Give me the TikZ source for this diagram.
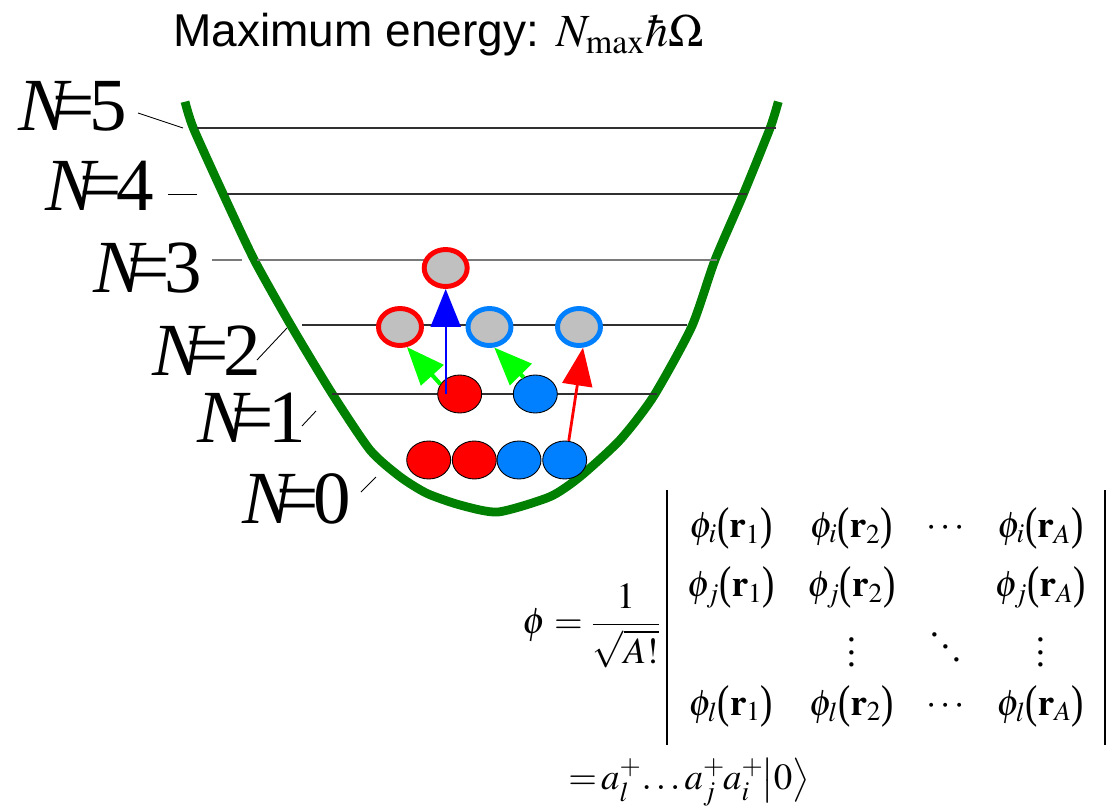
\documentclass[tikz,border=0pt]{standalone}
\usepackage{amsmath}
\usepackage{mathptmx}
\usepackage[no-math]{fontspec}
\setmainfont{Liberation Serif}
\newfontfamily\arialfont{Liberation Sans}
\usetikzlibrary{arrows.meta,shapes.geometric,matrix}

\definecolor{wellgreen}{HTML}{008000}
\definecolor{protonred}{HTML}{FF0000}
\definecolor{neutronblue}{HTML}{0080FF}
\definecolor{holegray}{HTML}{C0C0C0}
\definecolor{jumpgreen}{HTML}{00FF00}
\definecolor{jumpblue}{HTML}{0000FF}
\definecolor{linedark}{HTML}{303030}
\definecolor{linegray}{HTML}{7A7A7A}

\newcommand{\shellfont}{\fontsize{42.7}{48}\selectfont}
\newcommand{\titlefont}{\fontsize{26.2}{30}\selectfont}
\newcommand{\detfont}{\fontsize{21}{25}\selectfont}
\newcommand{\detlp}{\mathopen{\raisebox{-0.06em}{\scalebox{1}[1.25]{(}}}}
\newcommand{\detrp}{\mathclose{\raisebox{-0.06em}{\scalebox{1}[1.25]{)}}}}
\newcommand{\colvdots}{\vbox{\baselineskip0.34em\lineskiplimit0pt\kern0.3em\hbox{.}\hbox{.}\hbox{.}}}
\newcommand{\diagdots}{\mathinner{\raise0.68em\hbox{.}\kern0.05em\raise0.34em\hbox{.}\kern0.05em\hbox{.}}}

\tikzset{
  particle/.style={ellipse, draw=black, line width=0.5pt, inner sep=0pt,
    minimum width=0.88cm, minimum height=0.76cm},
  proton/.style={particle, fill=protonred},
  neutron/.style={particle, fill=neutronblue},
  hole/.style={ellipse, fill=holegray, line width=2.8pt, inner sep=0pt,
    minimum width=0.86cm, minimum height=0.74cm},
  levelline/.style={linedark, line width=0.8pt},
  leader/.style={black, line width=0.5pt},
  shell/.style={font=\shellfont, anchor=base west, inner sep=0pt},
  jump/.style={-{Triangle[length=0.76cm, width=0.6cm]}},
}

\begin{document}
\begin{tikzpicture}[x=0.02cm, y=-0.02cm]
  \useasboundingbox (0,0) rectangle (1113,808);

  % title
  \node[anchor=base west, inner sep=0pt, font=\titlefont] (title) at (173,47)
    {\arialfont Maximum energy: $N_{\max}\hbar\Omega$};

  % oscillator well
  \draw[wellgreen, line width=5pt] plot[smooth, tension=0.4] coordinates {
    (185,101.7) (193.3,128) (223.3,194.3) (254.3,260) (291.7,326.7)
    (331.7,393) (370,450) (400,476.7) (426.7,493.3) (460,505) (498,512)
    (550,496.7) (580,476.7) (620,440) (653.3,396.7) (691.7,326.7)
    (715,260) (743.3,194.3) (770,128.3) (778.3,101.7)};

  % shell levels
  \foreach \y/\xa/\xb in {128/197/776, 194/227/747, 325/302/687, 394/332/657}
    \draw[levelline] (\xa,\y) -- (\xb,\y);
  \draw[levelline, linegray, line width=1.1pt] (257,260) -- (717,260);

  % shell labels
  \node[shell] (n5) at (18,130) {\textit{N}\kern-0.26em=\kern-0.07em5};
  \node[shell] (n4) at (45,210) {\textit{N}\kern-0.26em=\kern-0.07em4};
  \node[shell] (n3) at (93,292) {\textit{N}\kern-0.26em=\kern-0.07em3};
  \node[shell] (n2) at (152,375) {\textit{N}\kern-0.26em=\kern-0.07em2};
  \node[shell] (n1) at (197,442) {\textit{N}\kern-0.26em=\kern-0.07em1};
  \node[shell] (n0) at (242,523) {\textit{N}\kern-0.26em=\kern-0.07em0};

  \draw[leader] (138,113) -- (183,128);
  \draw[leader] (168,194) -- (197,194);
  \draw[leader, linegray, line width=0.8pt] (212,260) -- (242,260);
  \draw[leader] (257,360) -- (287,328);
  \draw[leader] (302,426) -- (316,411);
  \draw[leader] (361,492) -- (376,477);

  % occupied states
  \node[proton] (p0a) at (428.7,460) {};
  \node[proton] (p0b) at (474.3,460) {};
  \node[neutron] (n0a) at (519,460) {};
  \node[neutron] (n0b) at (564.7,460) {};
  \node[proton] (p1a) at (459.7,394) {};
  \node[neutron] (n1a) at (535.3,394) {};

  % excited states
  \node[hole, draw=protonred] (h2a) at (400,327) {};
  \node[hole, draw=neutronblue] (h2b) at (489.5,327) {};
  \node[hole, draw=neutronblue] (h2c) at (579,327) {};
  \node[hole, draw=protonred] (h3a) at (445.7,268) {};

  % excitations
  \draw[jump, jumpblue, line width=1.1pt] (h3a.south |- p1a.center) -- (h3a.south);
  \draw[jump, jumpgreen, line width=2.3pt] (p1a.153) -- (h2a.-71);
  \draw[jump, jumpgreen, line width=2.3pt] (n1a.125) -- (h2b.-77);
  \draw[jump, protonred, line width=1.6pt] (n0b.78) -- (h2c.-79);

  % Slater determinant
  \node[anchor=east, inner sep=0pt, font=\detfont] (norm) at (661,626)
    {$\phi=\dfrac{1}{\sqrt{A!}}$};
  \matrix (det) [matrix of math nodes,
    nodes={font=\detfont, inner sep=0pt, minimum height=1cm, anchor=center},
    column 1/.style={nodes={minimum width=2.41cm}},
    column 2/.style={nodes={minimum width=2.41cm}},
    column 3/.style={nodes={minimum width=1.35cm}},
    column 4/.style={nodes={minimum width=2.45cm}},
    column sep=0pt, row sep=0.186cm, inner xsep=0.06cm, inner ysep=0.26cm]
    at (886.2,617.5) {
    \phi_i\detlp\mathbf{r}_1\detrp & \phi_i\detlp\mathbf{r}_2\detrp & \cdots & \phi_i\detlp\mathbf{r}_A\detrp \\
    \phi_j\detlp\mathbf{r}_1\detrp & \phi_j\detlp\mathbf{r}_2\detrp & & \phi_j\detlp\mathbf{r}_A\detrp \\
    & \colvdots & \diagdots & \colvdots \\
    \phi_l\detlp\mathbf{r}_1\detrp & \phi_l\detlp\mathbf{r}_2\detrp & \cdots & \phi_l\detlp\mathbf{r}_A\detrp \\
  };
  \draw[line width=1.2pt] (det.north west) -- (det.south west);
  \draw[line width=1.2pt] (det.north east) -- (det.south east);

  \node[anchor=west, font=\detfont, inner sep=0pt] (fock) at (568,782)
    {$=\mkern-2mu a_l^+\mkern-2mu\ldots a_j^+\mkern-1mu a_i^+\mkern-1mu\bigl|0\bigr\rangle$};
\end{tikzpicture}
\end{document}
